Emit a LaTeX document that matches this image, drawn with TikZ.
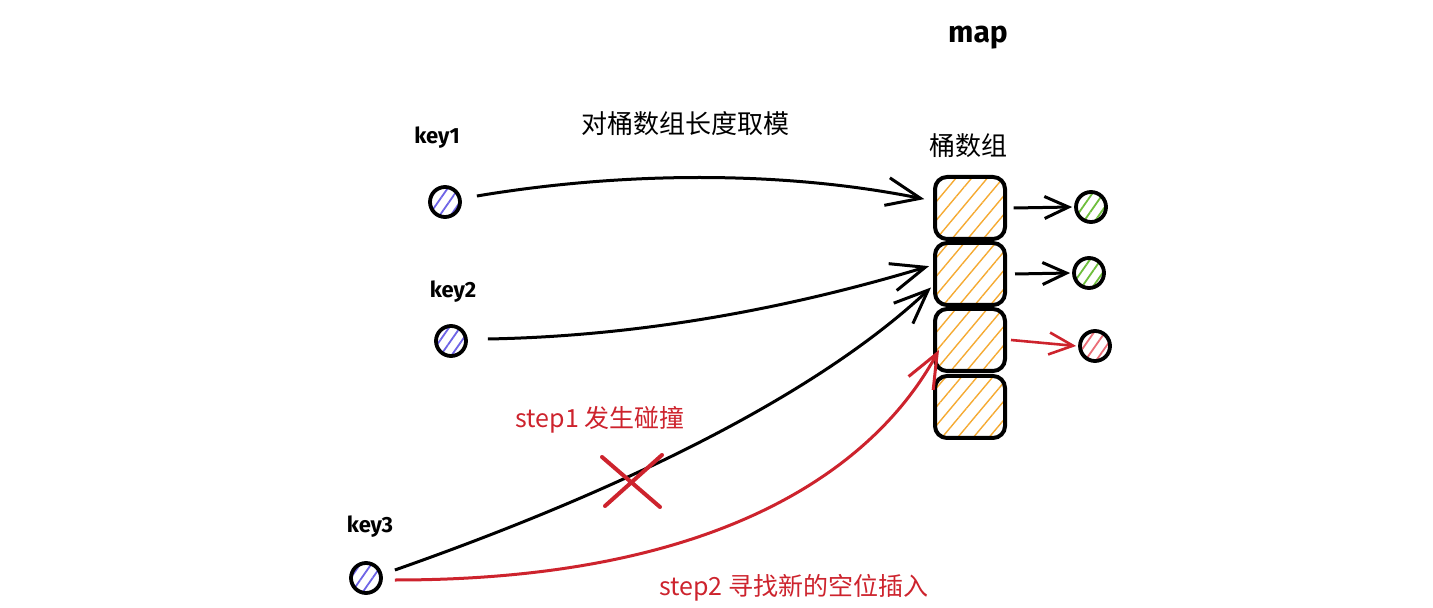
\documentclass[tikz,border=0pt]{standalone}
\usepackage{fontspec}
\setmainfont{Fira Sans}
\newfontfamily\cjk{Noto Sans CJK SC}
\usetikzlibrary{arrows.meta,patterns.meta}
\definecolor{hatchorange}{RGB}{245,170,50}
\definecolor{hatchblue}{RGB}{110,100,230}
\definecolor{hatchgreen}{RGB}{110,190,60}
\definecolor{hatchred}{RGB}{235,110,120}
\definecolor{redline}{RGB}{205,35,45}
\begin{document}
\begin{tikzpicture}[x=0.5pt,y=-0.5pt,
  bucket/.style={draw=black,line width=2pt,rounded corners=6pt,minimum width=35pt,minimum height=31pt,inner sep=0pt,
     pattern={Lines[angle=50,distance=6pt,line width=0.7pt]},pattern color=hatchorange},
  dot/.style={circle,draw=black,line width=1.9pt,minimum size=15pt,inner sep=0pt,
     pattern={Lines[angle=55,distance=4.5pt,line width=0.9pt]}},
  arr/.style={line width=1.5pt,-{Straight Barb[length=17pt,width=14pt]}},
  sarr/.style={line width=1.5pt,-{Straight Barb[length=12pt,width=11pt]}},
  lbl/.style={font=\fontsize{11}{13}\selectfont\bfseries},
  cn/.style={font=\cjk\fontsize{13}{15}\selectfont},
  redtxt/.style={text=redline,font=\cjk\fontsize{12.5}{15}\selectfont}
]
\useasboundingbox (0,0) rectangle (1433,608);

% titles
\node[font=\fontsize{15}{17}\selectfont\bfseries] (map) at (978,38) {map};
\node[cn] (mod) at (685,124) {对桶数组长度取模};
\node[cn] (arrname) at (968,146) {桶数组};

% buckets
\node[bucket] (b1) at (970,208) {};
\node[bucket] (b2) at (970,274) {};
\node[bucket] (b3) at (970,340) {};
\node[bucket] (b4) at (970,407) {};

% keys
\node[lbl] (l1) at (437,138) {key1};
\node[lbl] (l2) at (453,292) {key2};
\node[lbl] (l3) at (370,527) {key3};
\node[dot,pattern color=hatchblue] (k1) at (445,202) {};
\node[dot,pattern color=hatchblue] (k2) at (451,341) {};
\node[dot,pattern color=hatchblue] (k3) at (366,578) {};

% values
\node[dot,pattern color=hatchgreen] (g1) at (1091,207) {};
\node[dot,pattern color=hatchgreen] (g2) at (1089,273) {};
\node[dot,pattern color=hatchred] (r3) at (1095,346) {};

% bucket -> value arrows
\draw[sarr] ([xshift=4pt]b1.east) -- ([xshift=-1pt]g1.west);
\draw[sarr] ([xshift=4pt]b2.east) -- ([xshift=-1pt]g2.west);
\draw[sarr,draw=redline,line width=1.3pt] ([xshift=2pt]b3.east) -- ([xshift=-1pt]r3.west);

% key -> bucket arrows
\draw[arr] ([xshift=8pt,yshift=3pt]k1.east) .. controls (620,172) and (780,170) .. ([xshift=-5pt]b1.166);
\draw[arr] ([xshift=10pt,yshift=1pt]k2.east) .. controls (650,336) and (800,305) .. ([xshift=-2pt]b2.168);
\draw[arr] ([xshift=6pt,yshift=4pt]k3.east) .. controls (580,505) and (800,410) .. ([xshift=-1pt]b2.200);
\draw[arr,draw=redline] ([xshift=6pt,yshift=-1pt]k3.east) .. controls (760,580) and (890,440) .. ([xshift=3pt]b3.195);

% collision mark
\coordinate (xc) at (632,481);
\draw[draw=redline,line width=2pt,line cap=round] (602,457) -- (660,507) (662,455) -- (605,506);

% step labels
\node[redtxt] (s1) at (600,420) {step1 发生碰撞};
\node[redtxt,anchor=west] (s2) at (652,588) {step2 寻找新的空位插入};
\end{tikzpicture}
\end{document}
